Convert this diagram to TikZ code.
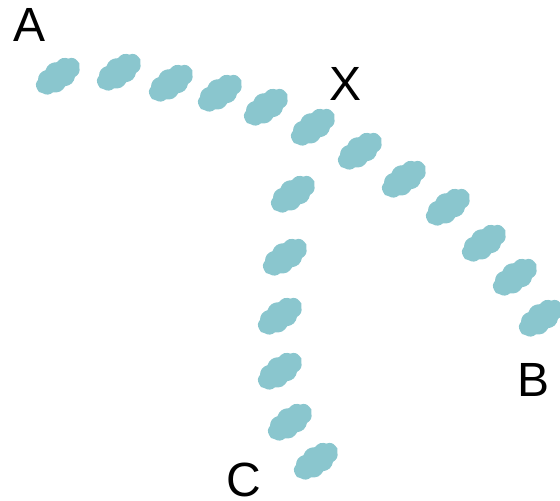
\documentclass[tikz,border=0pt]{standalone}
\usepackage{fontspec}
\setmainfont{Liberation Sans}
\usepackage{tikz}
\usetikzlibrary{shapes.symbols, positioning}
\definecolor{puffteal}{RGB}{138,198,206}
\tikzset{
    puff/.style={cloud, cloud puffs=11, cloud puff arc=80, aspect=1.9, fill=puffteal, draw=none, inner sep=0pt, minimum width=50pt, minimum height=29pt, rotate=35},
    tag/.style={inner sep=0pt, font=\fontsize{48}{56}\selectfont}
}

\begin{document}
\begin{tikzpicture}[x=1pt, y=-1pt]
    \useasboundingbox (0,0) rectangle (560,501);

    % --- Labels ---
    \node (A) [tag] at (30,25) {A};
    \node (X) [tag] at (346,84) {X};
    \node (B) [tag] at (534,380) {B};
    \node (C) [tag] at (244,480) {C};

    % --- Path A to X ---
    \foreach \i/\px/\py in {1/58/76, 2/119/72, 3/171/83, 4/220/93, 5/266/107, 6/313/127}
        \node (ax\i) [puff] at (\px,\py) {};

    % --- Path X to B ---
    \foreach \i/\px/\py in {1/360/151, 2/404/179, 3/448/207, 4/484/243, 5/515/277, 6/541/318}
        \node (xb\i) [puff] at (\px,\py) {};

    % --- Path X to C ---
    \foreach \i/\px/\py in {1/293/194, 2/285/257, 3/280/316, 4/280/371, 5/290/422, 6/316/461}
        \node (xc\i) [puff] at (\px,\py) {};
\end{tikzpicture}
\end{document}
